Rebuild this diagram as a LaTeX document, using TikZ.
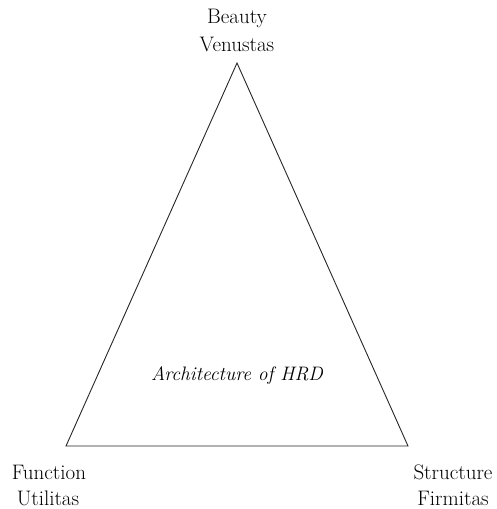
\documentclass[tikz,border=0pt]{standalone}
\begin{document}
\begin{tikzpicture}[x=1pt,y=-1pt,
  lbl/.style={font=\fontsize{21}{24}\selectfont, inner sep=0pt, align=center},
  edge/.style={draw=black!85, line width=0.9pt, line join=miter}]
\useasboundingbox (0,0) rectangle (496,509);
\coordinate (top) at (237,63);
\coordinate (bl) at (66,446);
\coordinate (br) at (408,446);
\draw[edge] (top) -- (bl) -- (br) -- cycle;
\node[lbl] (beauty) at (237,18) {Beauty};
\node[lbl] (venustas) at (237,44) {Venustas};
\node[lbl] (function) at (49,472) {Function};
\node[lbl] (utilitas) at (48,498) {Utilitas};
\node[lbl] (structure) at (453,472) {Structure};
\node[lbl] (firmitas) at (453,498) {Firmitas};
\node[lbl, font=\fontsize{19.5}{22}\selectfont\itshape] (arch) at (237,376) {Architecture of HRD};
\end{tikzpicture}
\end{document}
